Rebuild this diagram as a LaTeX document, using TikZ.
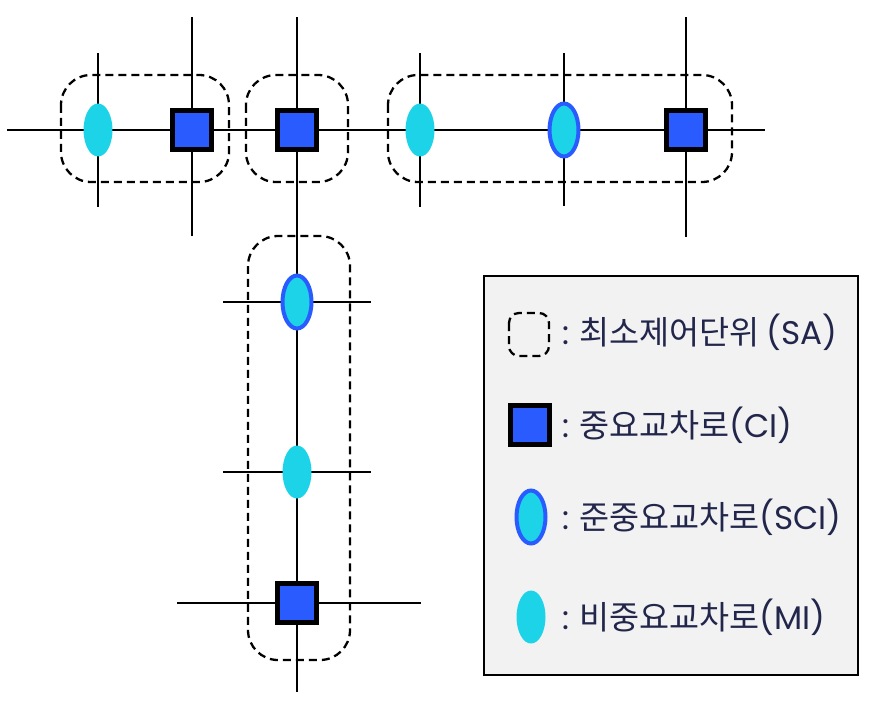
\documentclass[tikz,border=0pt]{standalone}
\usepackage{fontspec}
\setmainfont{Noto Sans CJK KR}
\newfontfamily\latinfont{Poppins}
\usetikzlibrary{shapes.geometric}
\definecolor{cicolor}{HTML}{2A5BFF}
\definecolor{micolor}{HTML}{1CD3E8}
\definecolor{keybg}{HTML}{F2F2F2}
\definecolor{navy}{HTML}{22264B}

\tikzset{
  ci/.style={draw=black, fill=cicolor, line width=0.1cm, minimum size=0.78cm, inner sep=0pt},
  sci/.style={ellipse, draw=cicolor, fill=micolor, line width=0.08cm, minimum width=0.58cm, minimum height=1.06cm, inner sep=0pt},
  mi/.style={ellipse, fill=micolor, minimum width=0.58cm, minimum height=1.06cm, inner sep=0pt},
  road/.style={line width=0.6pt},
  sabox/.style={dash pattern=on 0.16cm off 0.1cm, line width=1.3pt, rounded corners=0.6cm},
  keytext/.style={anchor=west, inner sep=0pt, text=navy, font=\fontsize{18.6}{21}\selectfont}
}

\begin{document}
\begin{tikzpicture}[x=0.02cm, y=-0.02cm]
         \useasboundingbox (0,0) rectangle (888,717);

         % coords
         \coordinate (A) at (98,130);
         \coordinate (B) at (192,130);
         \coordinate (C) at (297,130);
         \coordinate (D) at (420,130);
         \coordinate (E) at (564,130);
         \coordinate (F) at (686,130);
         \coordinate (G) at (297,302);
         \coordinate (H) at (297,472);
         \coordinate (K) at (297,603);

         % roads
         \draw[road] (7,130) coordinate (rowW) -- (765,130) coordinate (rowE);
         \draw[road] (98,53) coordinate (AN) -- (98,207) coordinate (AS);
         \draw[road] (192,17) coordinate (BN) -- (192,236) coordinate (BS);
         \draw[road] (297,17) coordinate (CN) -- (297,692) coordinate (KS);
         \draw[road] (420,53) coordinate (DN) -- (420,207) coordinate (DS);
         \draw[road] (564,53) coordinate (EN) -- (564,206) coordinate (ES);
         \draw[road] (686,17) coordinate (FN) -- (686,237) coordinate (FS);
         \draw[road] (223,302) coordinate (GW) -- (371,302) coordinate (GE);
         \draw[road] (223,472) coordinate (HW) -- (371,472) coordinate (HE);
         \draw[road] (177,603) coordinate (KW) -- (421,603) coordinate (KE);

         % control units
         \draw[sabox] (61,75) rectangle (229,182);
         \draw[sabox] (246,75) rectangle (348,182);
         \draw[sabox] (388,75) rectangle (732,182);
         \draw[sabox] (248,236) rectangle (350,660);

         % intersections
         \node[mi] (mi1) at (A) {};
         \node[ci] (ci1) at (B) {};
         \node[ci] (ci2) at (C) {};
         \node[mi] (mi2) at (D) {};
         \node[sci] (sci1) at (E) {};
         \node[ci] (ci3) at (F) {};
         \node[sci] (sci2) at (G) {};
         \node[mi] (mi3) at (H) {};
         \node[ci] (ci4) at (K) {};

         % legend
         \draw[fill=keybg, line width=1.1pt] (484,276) rectangle (858,675);
         \draw[sabox, rounded corners=0.2cm] (509,313) rectangle (549,356);
         \node[ci] (keyci) at (530,425) {};
         \node[sci] (keysci) at (531,517) {};
         \node[mi] (keymi) at (531,617) {};
         \node[keytext] (keysa) at (562,332) {{\latinfont:} 최소제어단위 {\latinfont(SA)}};
         \node[keytext] (keycitext) at (562,425) {{\latinfont:} 중요교차로{\latinfont(CI)}};
         \node[keytext] (keyscitext) at (562,517) {{\latinfont:} 준중요교차로{\latinfont(SCI)}};
         \node[keytext] (keymitext) at (562,617) {{\latinfont:} 비중요교차로{\latinfont(MI)}};
      \end{tikzpicture}
\end{document}
